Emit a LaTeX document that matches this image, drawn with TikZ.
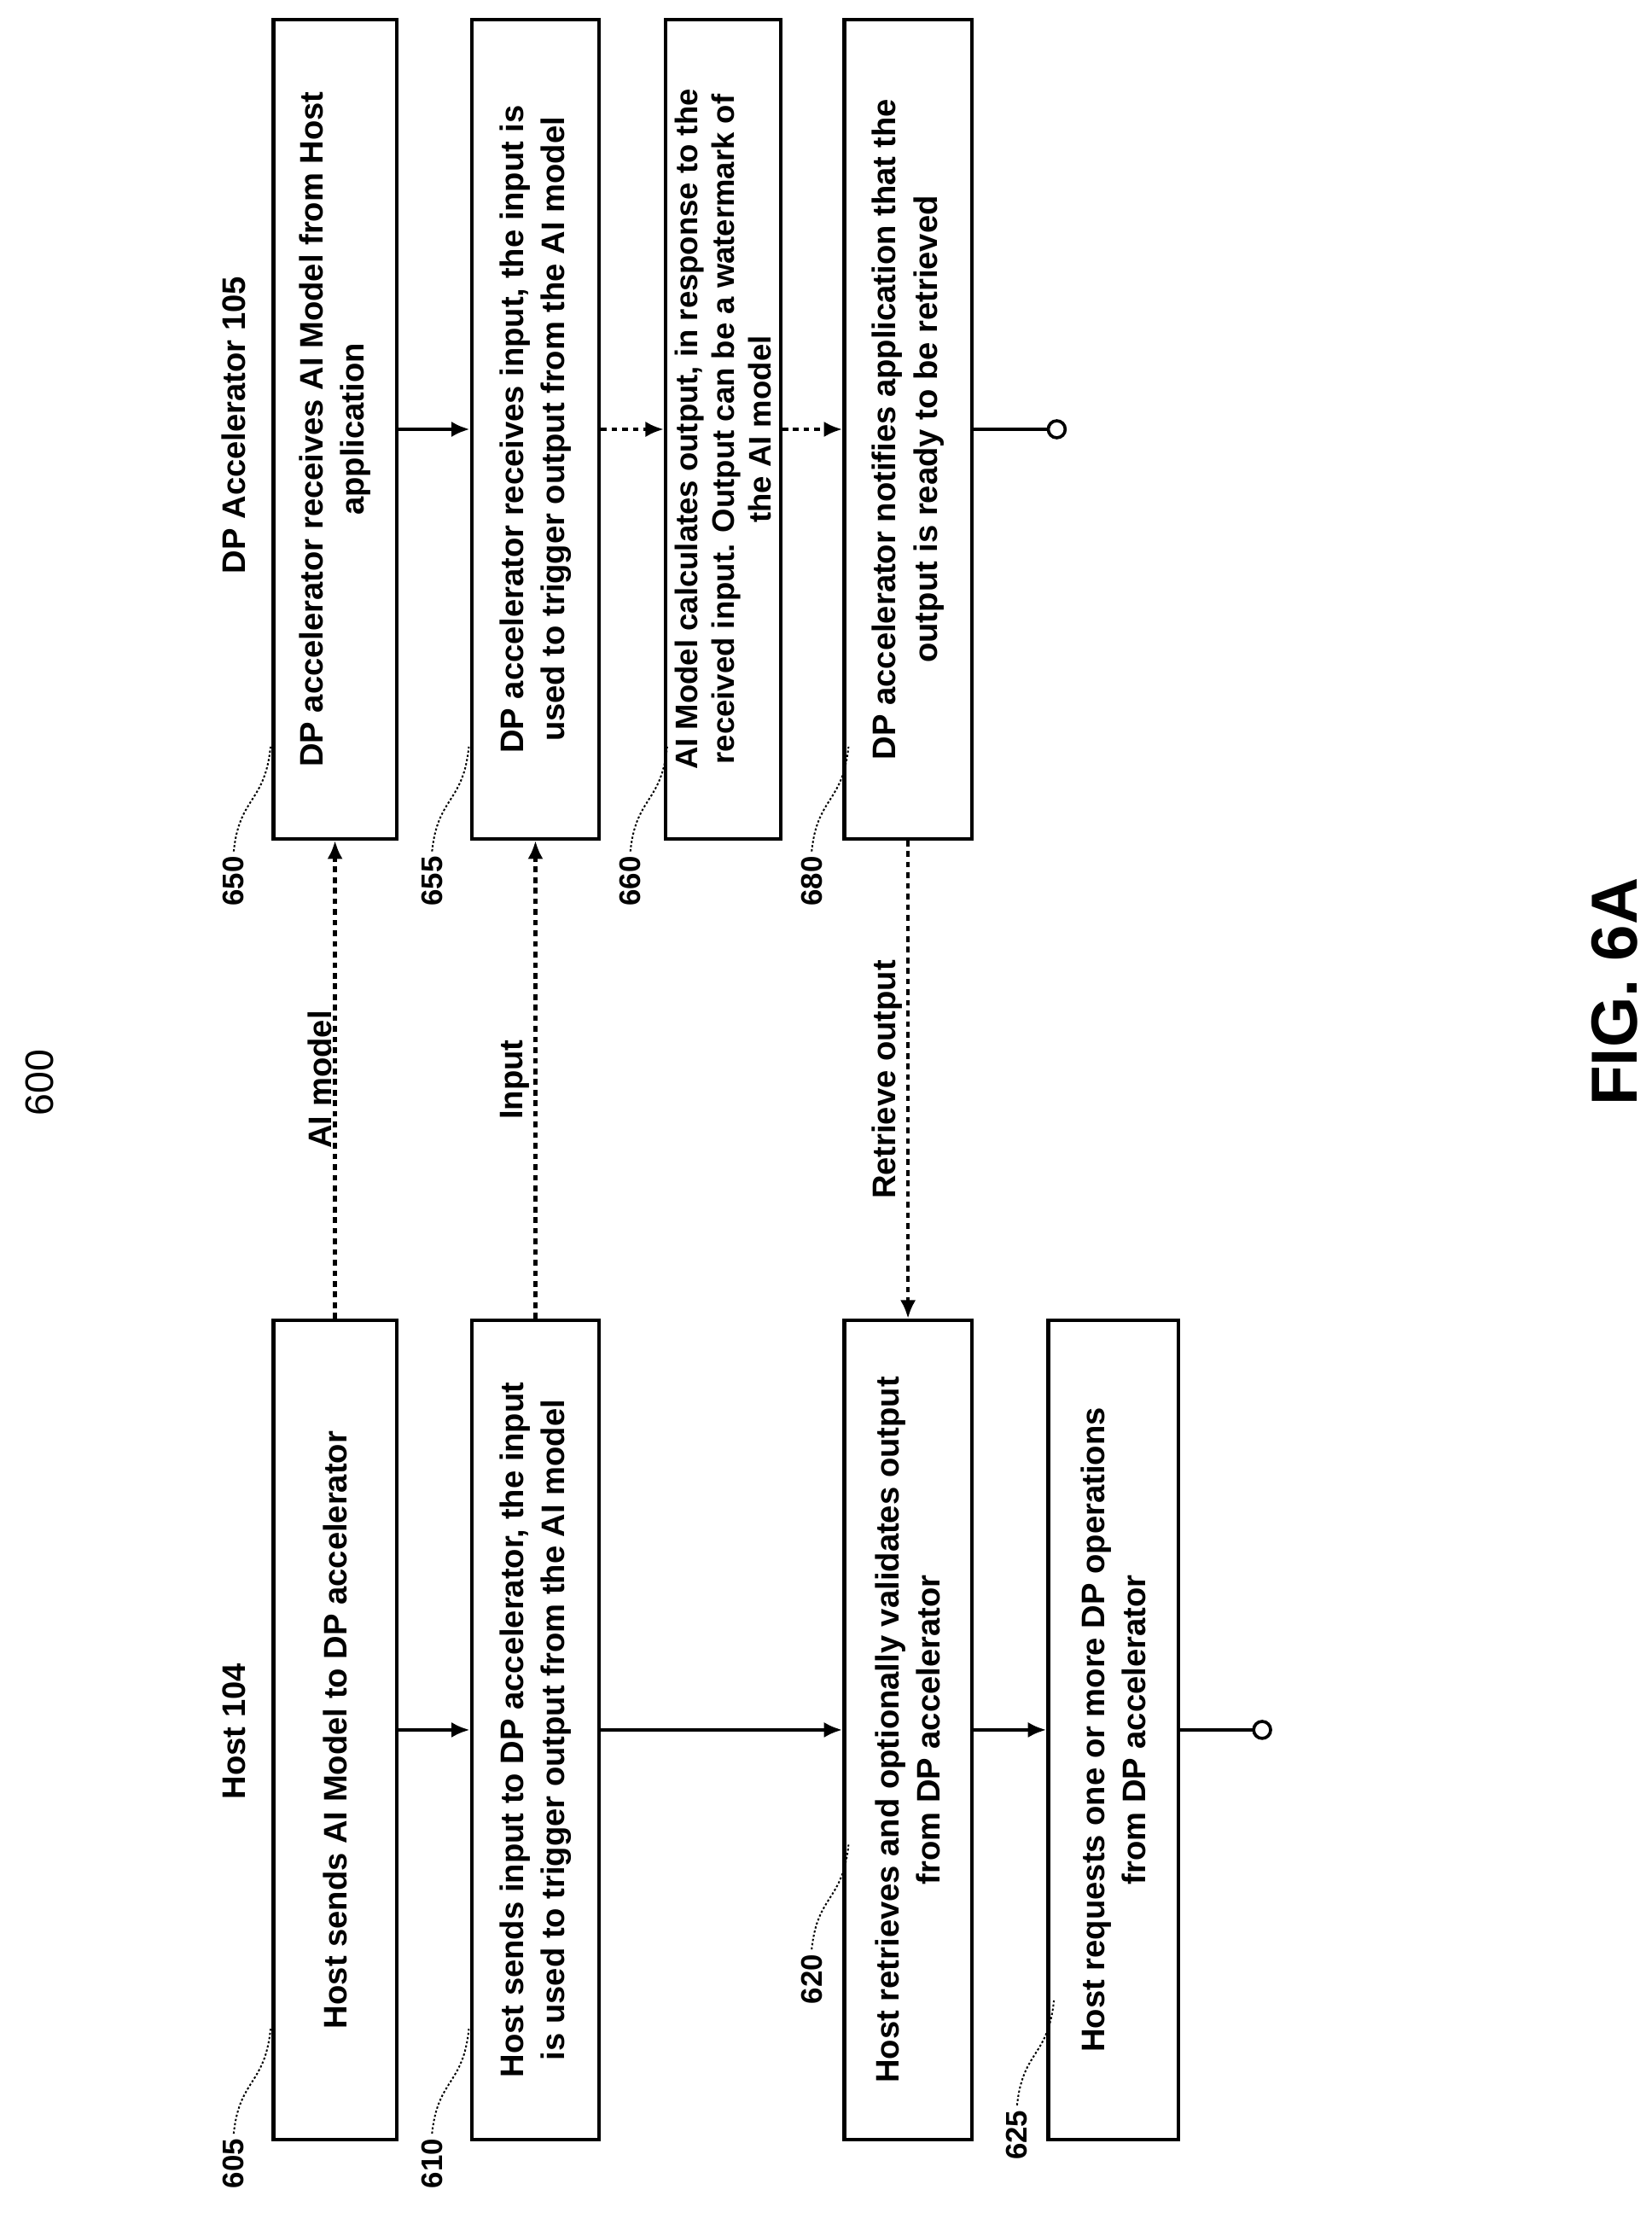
\documentclass[tikz,border=0pt]{standalone}
\usepackage{fontspec}
\setmainfont{Liberation Sans}
\usetikzlibrary{arrows.meta}
\begin{document}
\begin{tikzpicture}[x=1pt,y=-1pt,
  box/.style={draw,line width=2.6,rotate=90,minimum width=578pt,align=center,font=\fontsize{23}{29}\selectfont\bfseries},
  lbl/.style={rotate=90,font=\fontsize{23}{28}\selectfont\bfseries},
  num/.style={rotate=90,font=\fontsize{21}{24}\selectfont\bfseries},
  flow/.style={line width=2.6,-{Latex[length=13pt,width=11pt]}},
  dots/.style={line width=2.6,dash pattern=on 4pt off 3.5pt,-{Latex[length=13pt,width=11pt]}},
  lead/.style={line width=1.2,dash pattern=on 1.5pt off 1.5pt}]
\useasboundingbox (0,0) rectangle (1166,1562);

% host side
\node[box,minimum height=87pt] (h605) at (236.5,1221) {Host sends AI Model to DP accelerator};
\node[box,minimum height=90pt] (h610) at (378,1221) {Host sends input to DP accelerator, the input\\is used to trigger output from the AI model};
\node[box,minimum height=90pt] (h620) at (641,1221) {Host retrieves and optionally validates output\\from DP accelerator};
\node[box,minimum height=92pt] (h625) at (786,1221) {Host requests one or more DP operations\\from DP accelerator};
\coordinate (hend) at (885,1221);

% accelerator side
\node[box,minimum height=87pt] (d650) at (236.5,303) {DP accelerator receives AI Model from Host\\application};
\node[box,minimum height=90pt] (d655) at (378,303) {DP accelerator receives input, the input is\\used to trigger output from the AI model};
\node[box,minimum height=81pt,font=\fontsize{22}{26}\selectfont\bfseries] (d660) at (510.5,303) {AI Model calculates output, in response to the\\received input. Output can be a watermark of\\the AI model};
\node[box,minimum height=90pt] (d680) at (641,303) {DP accelerator notifies application that the\\output is ready to be retrieved};
\coordinate (dend) at (740,303);

% flow arrows
\draw[flow] (h605.south) -- (h610.north);
\draw[flow] (h610.south) -- (h620.north);
\draw[flow] (h620.south) -- (h625.north);
\draw[line width=2.6] (h625.south) -- (hend);
\draw[line width=2.2,fill=white] (hend) ++(6,0) circle (6pt);
\draw[flow] (d650.south) -- (d655.north);
\draw[dots] (d655.south) -- (d660.north);
\draw[dots] (d660.south) -- (d680.north);
\draw[line width=2.6] (d680.south) -- (dend);
\draw[line width=2.2,fill=white] (dend) ++(6,0) circle (6pt);

% messages
\draw[dots] (h605.east) -- node[lbl,above,inner sep=1pt] (lmodel) {AI model} (d650.west);
\draw[dots] (h610.east) -- node[lbl,above,inner sep=3pt] (linput) {Input} (d655.west);
\draw[dots] (d680.west) -- node[lbl,above,inner sep=3pt] (lret) {Retrieve output} (h620.east);

% titles
\node[lbl] (thost) at (165,1222) {Host 104};
\node[lbl] (tdp) at (165,300) {DP Accelerator 105};
\node[rotate=90,font=\fontsize{28}{32}\selectfont] (t600) at (28,764) {600};
\node[rotate=90,font=\fontsize{46}{50}\selectfont\bfseries] (tfig) at (1140,700) {FIG. 6A};

% reference numbers
\node[num] (n605) at (165,1527) {605};
\node[num] (n610) at (305,1527) {610};
\node[num] (n620) at (573,1397) {620};
\node[num] (n625) at (718,1507) {625};
\node[num] (n650) at (165,622) {650};
\node[num] (n655) at (305,622) {655};
\node[num] (n660) at (445,622) {660};
\node[num] (n680) at (573,622) {680};
\foreach \n/\x/\y in {605/165/1527,610/305/1527,620/573/1397,625/718/1507,650/165/622,655/305/622,660/445/622,680/573/622}
  \draw[lead] (n\n.east) .. controls (\x+4,\y-60) and (\x+22,\y-55) .. (\x+26,\y-95);
\end{tikzpicture}
\end{document}
